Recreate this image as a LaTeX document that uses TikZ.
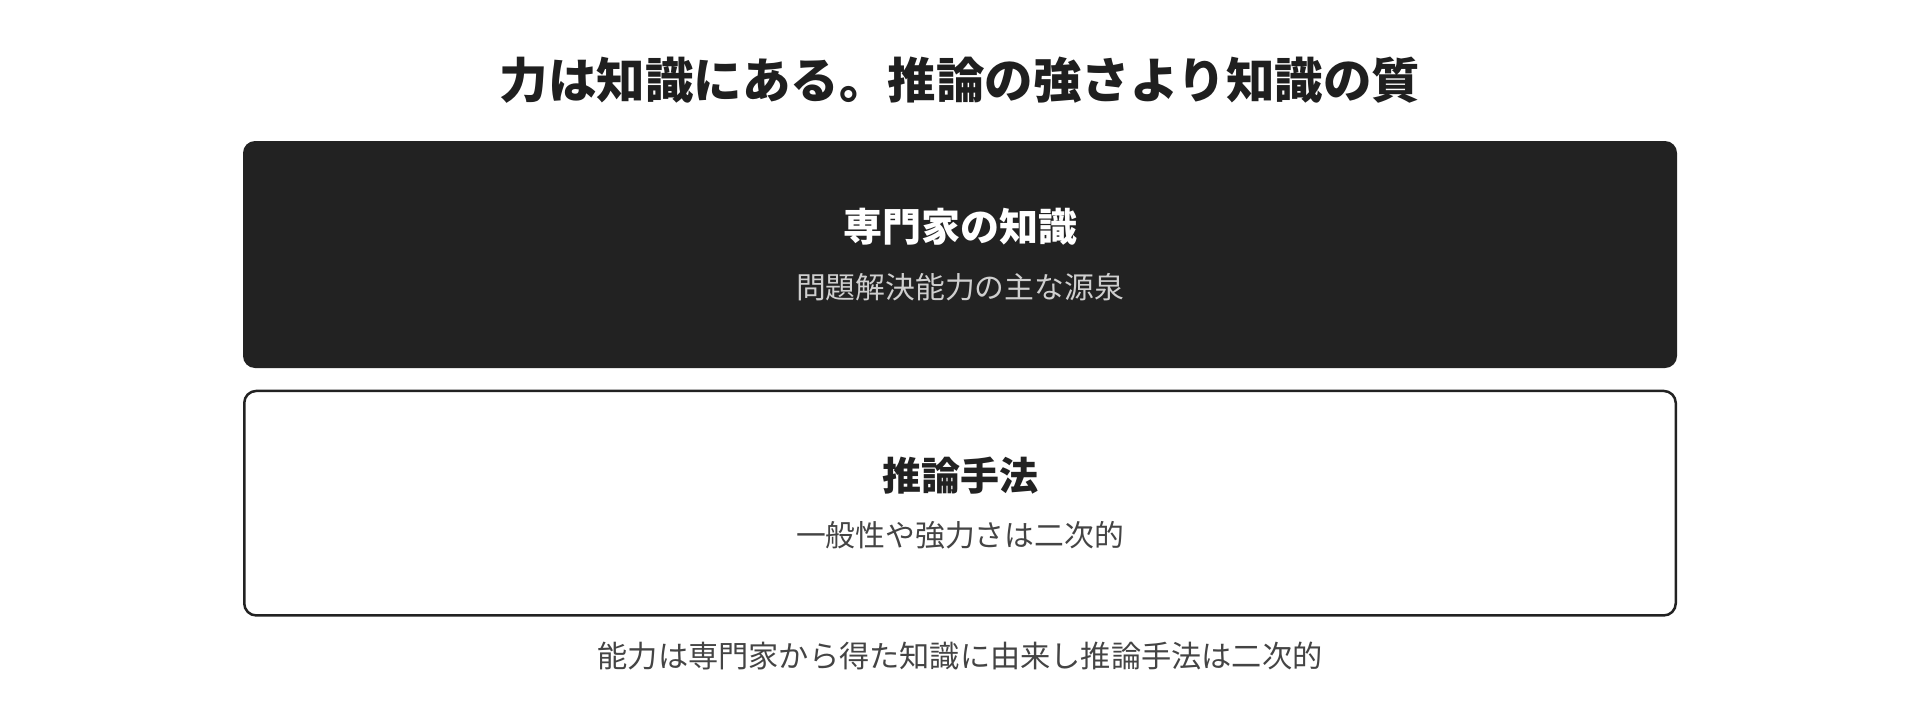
\documentclass[tikz,border=0pt]{standalone}
\usepackage{fontspec}
\usepackage{tikz}
\usepackage{xcolor}
\usetikzlibrary{positioning}
\setmainfont{Noto Sans CJK JP}
\newfontfamily\jpfont{Noto Sans CJK JP}
\definecolor{inkdark}{HTML}{222222}
\definecolor{inkgrey}{HTML}{444444}
\definecolor{inklight}{HTML}{CFCFCF}
\tikzset{
    dark-box/.style = {fill=inkdark, rectangle, rounded corners=12pt, minimum width=1434pt, minimum height=227pt, inner sep=0pt},
    light-box/.style = {draw=inkdark, fill=white, line width=2.5pt, rectangle, rounded corners=12pt, minimum width=1431.5pt, minimum height=224.5pt, inner sep=0pt},
    box-title/.style = {font=\jpfont\fontsize{39pt}{44pt}\selectfont\bfseries, inner sep=0pt},
    box-note/.style = {font=\jpfont\fontsize{29.8pt}{34pt}\selectfont, inner sep=0pt},
}

\begin{document}
\begin{tikzpicture}[x=1pt, y=-1pt]
\useasboundingbox (0,0) rectangle (1920,715);
\node[font=\jpfont\fontsize{48.5pt}{54pt}\selectfont\bfseries, text=inkdark!90!black, inner sep=0pt] (headline) at (960,80) {力は知識にある。推論の強さより知識の質};
\node [dark-box] (expert) at (960,254.5) {};
\node[box-title, text=white] (expert-title) at ([yshift=27.5pt]expert.center) {専門家の知識};
\node[box-note, text=inklight] (expert-note) at ([yshift=-32.5pt]expert.center) {問題解決能力の主な源泉};
\node [light-box, below=21.5pt of expert] (method) {};
\node[box-title, text=inkdark] (method-title) at ([yshift=27.5pt]method.center) {推論手法};
\node[box-note, text=inkgrey] (method-note) at ([yshift=-32.5pt]method.center) {一般性や強力さは二次的};
\node[box-note, text=inkgrey, font=\jpfont\fontsize{30.2pt}{35pt}\selectfont] (summary) at (960,656) {能力は専門家から得た知識に由来し推論手法は二次的};
\end{tikzpicture}
\end{document}
